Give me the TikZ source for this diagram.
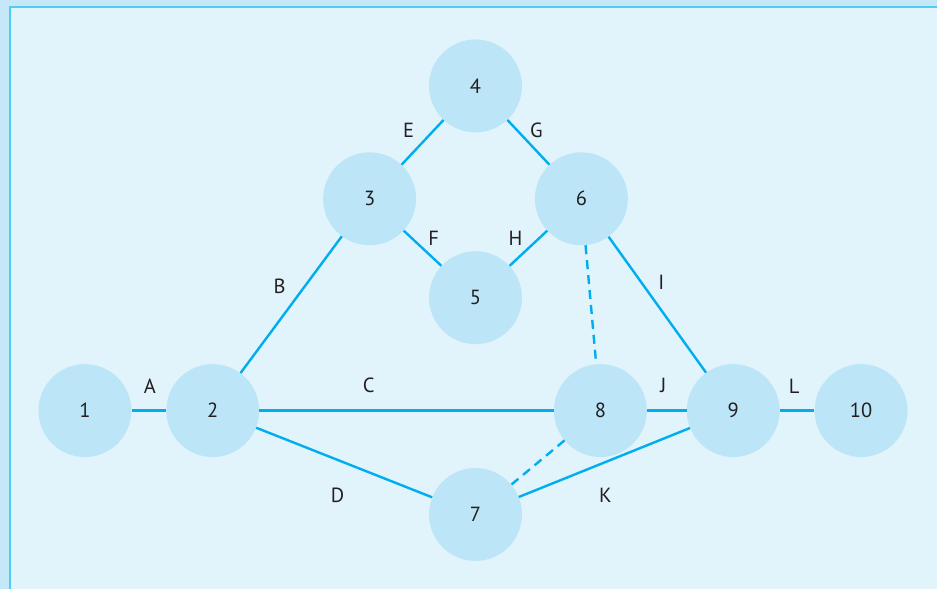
\documentclass[tikz,border=0pt]{standalone}
\usepackage{fontspec}
\setmainfont{PT Sans}
\definecolor{outerbg}{HTML}{C5E8F9}
\definecolor{innerbg}{HTML}{E1F3FB}
\definecolor{frameline}{HTML}{4FCDF5}
\definecolor{nodefill}{HTML}{BDE5F8}
\definecolor{edgecol}{HTML}{00AEEF}
\definecolor{txt}{HTML}{231F20}
\begin{document}
\begin{tikzpicture}[x=1pt,y=-1pt,
  ev/.style={circle,fill=nodefill,minimum size=93pt,inner sep=0pt,text=txt,font=\fontsize{20.5}{22}\selectfont},
  act/.style={draw=edgecol,line width=2.4pt},
  dummy/.style={draw=edgecol,line width=2.4pt,dash pattern=on 9pt off 6pt},
  lab/.style={text=txt,font=\fontsize{20.5}{22}\selectfont,inner sep=0pt}]
\fill[outerbg] (0,0) rectangle (938,590);
\fill[innerbg] (9,6) rectangle (938,590);
\draw[frameline,line width=2pt] (10,590) -- (10,7) -- (938,7);
\useasboundingbox (0,0) rectangle (938,590);
\node[ev] (n1) at (85,411) {1};
\node[ev] (n2) at (213,411) {2};
\node[ev] (n3) at (370,199) {3};
\node[ev] (n4) at (476,86) {4};
\node[ev] (n5) at (476,298) {5};
\node[ev] (n6) at (582,199) {6};
\node[ev] (n7) at (476,515) {7};
\node[ev] (n8) at (601,411) {8};
\node[ev] (n9) at (734,411) {9};
\node[ev] (n10) at (862,411) {10};
\draw[act] (n1) -- (n2);
\draw[act] (n2) -- (n3);
\draw[act] (n2) -- (n8);
\draw[act] (n2) -- (n7);
\draw[act] (n3) -- (n4);
\draw[act] (n3) -- (n5);
\draw[act] (n4) -- (n6);
\draw[act] (n6) -- (n5);
\draw[act] (n6) -- (n9);
\draw[act] (n8) -- (n9);
\draw[act] (n7) -- (n9);
\draw[act] (n9) -- (n10);
\draw[dummy] (n6) -- (n8);
\draw[dummy] (n8) -- (n7);
\node[lab] (lA) at (150,387) {A};
\node[lab] (lB) at (280,287) {B};
\node[lab] (lC) at (369,386) {C};
\node[lab] (lD) at (338,496) {D};
\node[lab] (lE) at (409,130) {E};
\node[lab] (lF) at (434,239) {F};
\node[lab] (lG) at (537,130) {G};
\node[lab] (lH) at (516,239) {H};
\node[lab] (lI) at (662,283) {I};
\node[lab] (lJ) at (664,386) {J};
\node[lab] (lK) at (606,496) {K};
\node[lab] (lL) at (795,387) {L};
\end{tikzpicture}
\end{document}
